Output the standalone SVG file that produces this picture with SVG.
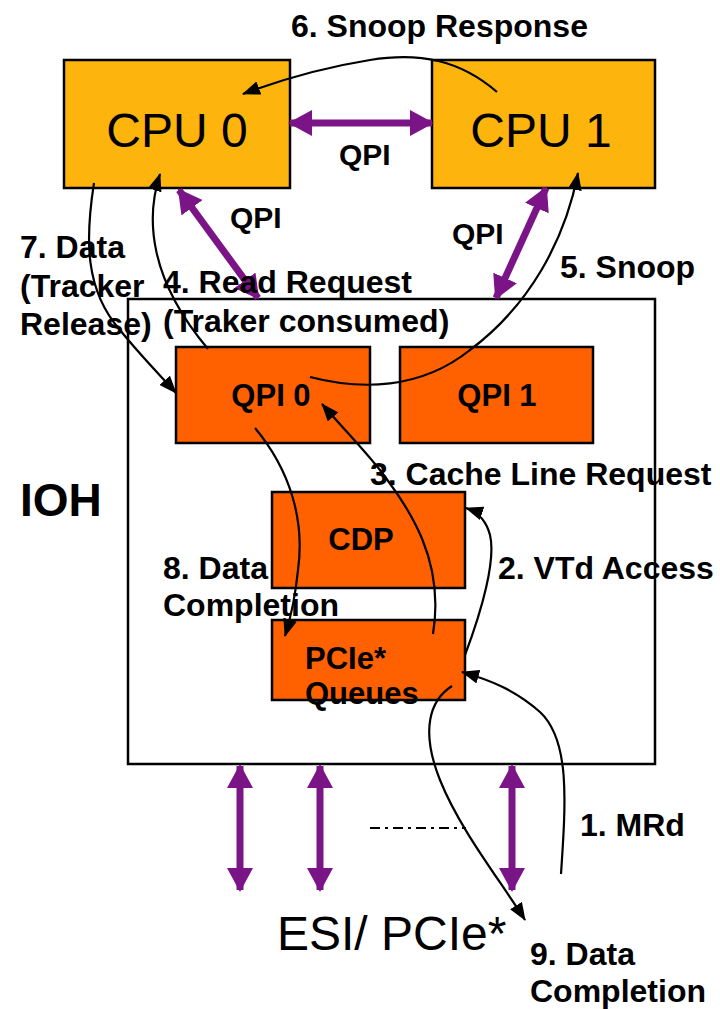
<svg xmlns="http://www.w3.org/2000/svg" width="720" height="1009" viewBox="0 0 720 1009">
  <style>
    .cpu { fill: #FDB40C; stroke: #000; stroke-width: 2.5; }
    .blk { fill: #FF6000; stroke: #000; stroke-width: 2.5; }
    .ioh { fill: #fff; stroke: #000; stroke-width: 2.5; }
    .big { font-family: "Liberation Sans", Arial, sans-serif; font-size: 48px; fill: #000; }
    .lbl { font-family: "Liberation Sans", Arial, sans-serif; font-size: 32px; font-weight: bold; fill: #000; }
    .qpi { font-family: "Liberation Sans", Arial, sans-serif; font-size: 30px; font-weight: bold; fill: #000; }
    .box { font-family: "Liberation Sans", Arial, sans-serif; font-size: 31px; font-weight: bold; fill: #000; }
    .flow { fill: none; stroke: #000; stroke-width: 2.2; marker-end: url(#ah); }
    .link { fill: none; stroke: #7A1487; stroke-width: 7; marker-start: url(#ph); marker-end: url(#ph); }
  </style>
  <defs>
    <marker id="ah" viewBox="0 0 18 14" refX="17" refY="7" markerWidth="18" markerHeight="14" markerUnits="userSpaceOnUse" orient="auto">
      <path d="M0,0 L18,7 L0,14 Z" fill="#000"/>
    </marker>
    <marker id="ph" viewBox="0 0 24 26" refX="22" refY="13" markerWidth="24" markerHeight="26" markerUnits="userSpaceOnUse" orient="auto-start-reverse">
      <path d="M0,0 L24,13 L0,26 Z" fill="#7A1487"/>
    </marker>
  </defs>

  <!-- processors -->
  <g id="cpu0">
    <rect class="cpu" x="64" y="60" width="226" height="128"/>
    <text class="big" x="177" y="147" text-anchor="middle">CPU 0</text>
  </g>
  <g id="cpu1">
    <rect class="cpu" x="432" y="60" width="223" height="128"/>
    <text class="big" x="541" y="147" text-anchor="middle">CPU 1</text>
  </g>

  <!-- I/O hub -->
  <g id="ioh">
    <rect class="ioh" x="128" y="299" width="527" height="465"/>
    <text x="20" y="516" font-family="Liberation Sans, Arial, sans-serif" font-size="46" font-weight="bold">IOH</text>
  </g>
  <g id="qpi0">
    <rect class="blk" x="176" y="347" width="194" height="96"/>
    <text class="box" x="271" y="406" text-anchor="middle">QPI 0</text>
  </g>
  <g id="qpi1">
    <rect class="blk" x="400" y="347" width="193" height="96"/>
    <text class="box" x="497" y="406" text-anchor="middle">QPI 1</text>
  </g>
  <g id="cdp">
    <rect class="blk" x="272" y="492" width="193" height="96"/>
    <text class="box" x="361" y="550" text-anchor="middle">CDP</text>
  </g>
  <g id="pcie-queues">
    <rect class="blk" x="272" y="620" width="193" height="80"/>
    <text class="box" x="305" y="669">PCIe*</text>
    <text class="box" x="305" y="704">Queues</text>
  </g>
  <g id="esi">
    <text class="big" x="277" y="950" font-size="46">ESI/ PCIe*</text>
  </g>

  <!-- connectors -->
  <g id="connectors">
    <!-- QPI links -->
    <line class="link" x1="290" y1="123" x2="432" y2="123"/>
    <line class="link" x1="179" y1="190" x2="258" y2="298"/>
    <line class="link" x1="546" y1="188" x2="496" y2="298"/>
    <!-- ESI / PCIe ports -->
    <line class="link" x1="240" y1="766" x2="240" y2="890"/>
    <line class="link" x1="320" y1="766" x2="320" y2="890"/>
    <line class="link" x1="512" y1="766" x2="512" y2="890"/>
    <line x1="370" y1="828" x2="466" y2="828" stroke="#000" stroke-width="2" stroke-dasharray="10,5,3,5"/>

    <!-- transaction flow -->
    <path class="flow" d="M561,874 C 566,800 570,740 540,712 C 515,690 490,680 462,672"/>
    <path class="flow" d="M465,655 C 482,610 496,560 490,535 C 486,520 478,512 466,508"/>
    <path class="flow" d="M433,634 C 445,560 410,510 380,470 C 360,445 340,425 322,404"/>
    <path class="flow" d="M208,349 C 150,280 145,220 160,174"/>
    <path class="flow" d="M310,377 C 360,390 420,390 470,350 C 530,305 565,240 578,173"/>
    <path class="flow" d="M497,92 C 460,60 420,52 370,60 C 320,68 280,80 243,94"/>
    <path class="flow" d="M94,183 C 85,240 85,290 120,330 C 140,355 160,375 176,393"/>
    <path class="flow" d="M255,428 C 290,470 305,520 298,570 C 295,600 290,620 285,636"/>
    <path class="flow" d="M452,686 C 430,700 420,730 440,780 C 460,830 500,880 525,920"/>
  </g>

  <!-- labels -->
  <g id="labels">
    <text class="lbl" x="291" y="37">6. Snoop Response</text>
    <text class="qpi" x="339" y="165">QPI</text>
    <text class="qpi" x="230" y="228">QPI</text>
    <text class="qpi" x="452" y="244">QPI</text>
    <text class="lbl" x="560" y="278">5. Snoop</text>
    <text class="lbl" x="20" y="258">7. Data</text>
    <text class="lbl" x="20" y="297">(Tracker</text>
    <text class="lbl" x="20" y="335">Release)</text>
    <text class="lbl" x="163" y="293">4. Read Request</text>
    <text class="lbl" x="163" y="332">(Traker consumed)</text>
    <text class="lbl" x="370" y="485">3. Cache Line Request</text>
    <text class="lbl" x="163" y="579">8. Data</text>
    <text class="lbl" x="163" y="616">Completion</text>
    <text class="lbl" x="498" y="579">2. VTd Access</text>
    <text class="lbl" x="580" y="836">1. MRd</text>
    <text class="lbl" x="530" y="965">9. Data</text>
    <text class="lbl" x="530" y="1002">Completion</text>
  </g>
</svg>
